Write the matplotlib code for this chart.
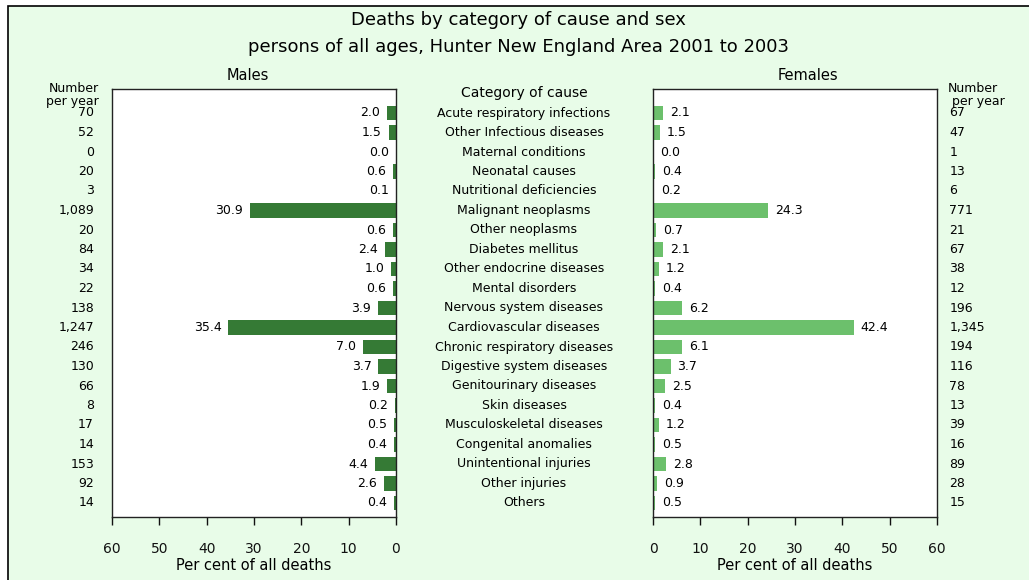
import matplotlib.pyplot as plt
from matplotlib.patches import Rectangle

W, H = 1029, 580

categories = [
    "Acute respiratory infections", "Other Infectious diseases", "Maternal conditions",
    "Neonatal causes", "Nutritional deficiencies", "Malignant neoplasms",
    "Other neoplasms", "Diabetes mellitus", "Other endocrine diseases",
    "Mental disorders", "Nervous system diseases", "Cardiovascular diseases",
    "Chronic respiratory diseases", "Digestive system diseases", "Genitourinary diseases",
    "Skin diseases", "Musculoskeletal diseases", "Congenital anomalies",
    "Unintentional injuries", "Other injuries", "Others",
]
male_pct = [2.0, 1.5, 0.0, 0.6, 0.1, 30.9, 0.6, 2.4, 1.0, 0.6, 3.9, 35.4,
            7.0, 3.7, 1.9, 0.2, 0.5, 0.4, 4.4, 2.6, 0.4]
male_num = ["70", "52", "0", "20", "3", "1,089", "20", "84", "34", "22", "138", "1,247",
            "246", "130", "66", "8", "17", "14", "153", "92", "14"]
female_pct = [2.1, 1.5, 0.0, 0.4, 0.2, 24.3, 0.7, 2.1, 1.2, 0.4, 6.2, 42.4,
              6.1, 3.7, 2.5, 0.4, 1.2, 0.5, 2.8, 0.9, 0.5]
female_num = ["67", "47", "1", "13", "6", "771", "21", "67", "38", "12", "196", "1,345",
              "194", "116", "78", "13", "39", "16", "89", "28", "15"]
ticks = [0, 10, 20, 30, 40, 50, 60]

BG = "#e8fce8"
MALE = "#357a35"
FEMALE = "#6cc06c"


def fx(px):
    return px / W


def fy(py):
    return 1 - py / H


fig = plt.figure(figsize=(W / 100, H / 100), dpi=100)
fig.patch.set_facecolor("white")
fig.patches.append(Rectangle((fx(8), -0.1), 1.2, fy(6) + 0.1, transform=fig.transFigure,
                             facecolor=BG, edgecolor="black", linewidth=1.2, zorder=-10))

# axes placement in pixels: top 89, bottom 517
top, bot = 89, 517
axL = fig.add_axes([fx(112), fy(bot), fx(396 - 112), (bot - top) / H])
axR = fig.add_axes([fx(653), fy(bot), fx(937 - 653), (bot - top) / H])

rows = list(range(len(categories)))
row_top = 113
row_step = 19.5
ylim = ((bot - row_top) / row_step, (top - row_top) / row_step)

for ax, vals, col in [(axL, male_pct, MALE), (axR, female_pct, FEMALE)]:
    ax.set_facecolor("white")
    ax.barh(rows, vals, height=0.72, color=col, zorder=2)
    ax.set_ylim(ylim)
    ax.set_yticks([])
    ax.set_xticks(ticks)
    ax.set_xticklabels([str(t) for t in ticks], fontsize=10)
    ax.tick_params(axis="x", direction="out", length=6, width=1, pad=12, colors="#111111")
    for s in ax.spines.values():
        s.set_linewidth(1)
        s.set_color("#222222")

axL.set_xlim(60, 0)
axR.set_xlim(0, 60)

for i, v in enumerate(male_pct):
    axL.annotate(f"{v:.1f}", (v, i), xytext=(-5, 0), textcoords="offset points",
                 ha="right", va="center", fontsize=9)
for i, v in enumerate(female_pct):
    axR.annotate(f"{v:.1f}", (v, i), xytext=(5, 0), textcoords="offset points",
                 ha="left", va="center", fontsize=9)

# number per year columns and category labels, placed on row positions
for i in rows:
    axL.annotate(male_num[i], (0, i), xycoords=("axes fraction", "data"),
                 xytext=(-13, 0), textcoords="offset points",
                 ha="right", va="center", fontsize=9)
    axR.annotate(female_num[i], (1, i), xycoords=("axes fraction", "data"),
                 xytext=(9, 0), textcoords="offset points",
                 ha="left", va="center", fontsize=9)
    axL.annotate(categories[i], (fx(524), i),
                 xycoords=(fig.transFigure, axL.transData),
                 ha="center", va="center", fontsize=9, annotation_clip=False)

fig.text(fx(254), fy(565), "Per cent of all deaths", ha="center", va="center", fontsize=10.5)
fig.text(fx(795), fy(565), "Per cent of all deaths", ha="center", va="center", fontsize=10.5)
fig.text(fx(524), fy(93), "Category of cause", ha="center", va="center", fontsize=10)
fig.text(fx(99), fy(95), "Number\nper year", ha="right", va="center", fontsize=9,
         linespacing=0.95)
fig.text(fx(948), fy(95), "Number\n per year", ha="left", va="center", fontsize=9,
         linespacing=0.95)
fig.text(fx(248), fy(75), "Males", ha="center", va="center", fontsize=10.5)
fig.text(fx(808), fy(75), "Females", ha="center", va="center", fontsize=10.5)
fig.text(fx(518), fy(20), "Deaths by category of cause and sex", ha="center",
         va="center", fontsize=13)
fig.text(fx(518), fy(47), "persons of all ages, Hunter New England Area 2001 to 2003",
         ha="center", va="center", fontsize=13)

fig.savefig("out.png", dpi=100, facecolor=fig.get_facecolor())
